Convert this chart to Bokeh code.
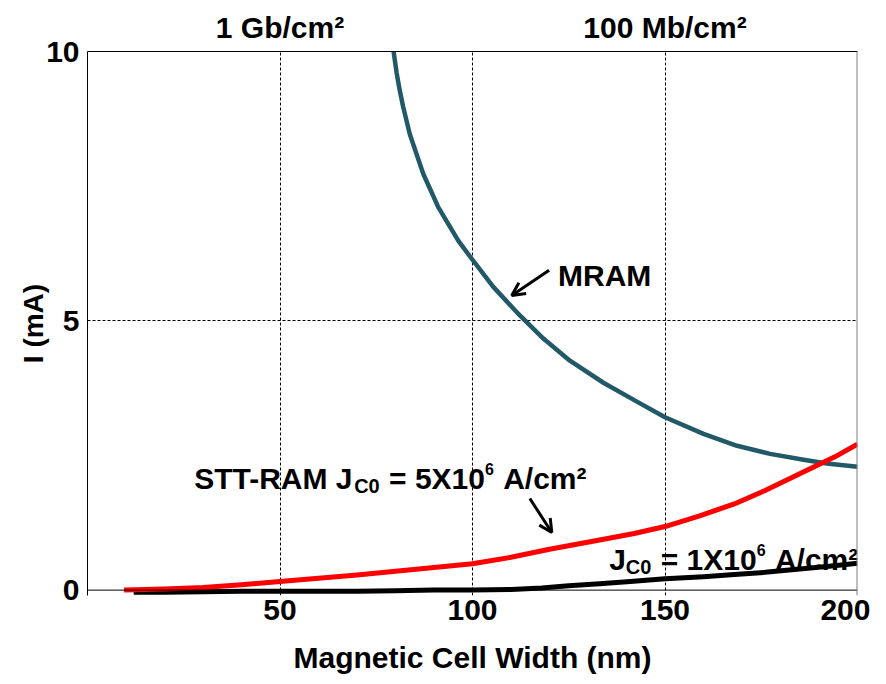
from bokeh.plotting import figure
from bokeh.models import Range1d, LinearAxis, FixedTicker, Arrow, OpenHead, ColumnDataSource, Span
from bokeh.core.properties import value
from bokeh.embed import file_html
from bokeh.resources import INLINE

# ---------------- data ----------------
x_ticks = [50, 100, 150, 200]
y_ticks = [0, 5, 10]
density_ticks = [50, 150]
density_labels = ["1 Gb/cm²", "100 Mb/cm²"]

mram_x = [79.5, 80.3, 81.1, 82.0, 83.7, 87.2, 91.1, 96.3, 99.5, 105.4, 112.3, 118.4, 125.3,
          134.0, 142.7, 150.0, 160.0, 168.7, 177.3, 186.0, 192.0, 200.0]
mram_y = [10.0, 9.60, 9.28, 8.97, 8.47, 7.73, 7.11, 6.49, 6.18, 5.63, 5.10, 4.67, 4.26,
          3.85, 3.50, 3.21, 2.90, 2.68, 2.53, 2.42, 2.35, 2.29]

stt5_x = [9.5, 20, 30, 40, 50, 60, 70, 80, 90, 100, 110, 120, 133, 142, 150, 159, 168, 176, 185, 194, 200]
stt5_y = [0.0, 0.02, 0.05, 0.10, 0.16, 0.22, 0.28, 0.35, 0.42, 0.49, 0.61, 0.76, 0.93, 1.05, 1.18, 1.38, 1.60, 1.85, 2.16, 2.47, 2.71]

stt1_x = [12, 20, 30, 40, 50, 60, 70, 80, 90, 100, 110, 118, 125, 133, 141, 150, 160, 168, 176, 185, 192, 200]
stt1_y = [-0.04, -0.04, -0.03, -0.02, -0.02, -0.02, -0.02, -0.01, 0.0, 0.0, 0.01, 0.04, 0.08, 0.12, 0.16, 0.21, 0.25, 0.29, 0.33, 0.39, 0.44, 0.50]

# annotation anchors (data units) and texts
mram_label_xy = (122.2, 5.84)
mram_label_parts = [("MRAM", "main")]
stt5_label_xy = (27.7, 2.065)
stt5_label_parts = [("STT-RAM J", "main"), ("C0", "sub"), (" = 5X10", "main"), ("6", "sup"), (" A/cm²", "main")]
stt1_label_xy = (135.5, 0.56)
stt1_label_parts = [("J", "main"), ("C0", "sub"), (" = 1X10", "main"), ("6", "sup"), (" A/cm²", "main")]

mram_arrow = (119.9, 5.94, 110.2, 5.47)
stt5_arrow = (114.9, 1.70, 120.6, 1.07)

# ---------------- styling helpers ----------------
FONT = "Liberation Sans"
MRAM_COLOR = "#215968"
SIZES = {"main": 30, "sub": 20, "sup": 16}
YOFF = {"main": 0, "sub": 7, "sup": -10}
ARIAL_BOLD = {' ': 278, '-': 333, '=': 584, '/': 278, '0': 556, '1': 556, '5': 556, '6': 556,
              'A': 722, 'C': 722, 'J': 556, 'M': 833, 'R': 722, 'S': 667, 'T': 611, 'X': 667,
              'c': 556, 'm': 889, '²': 333}


def text_width(s, size):
    return sum(ARIAL_BOLD.get(ch, 556) for ch in s) * size / 1000.0


cols = dict(x=[], y=[], text=[], xo=[], yo=[], size=[])
for (ax, ay), parts in [(mram_label_xy, mram_label_parts), (stt5_label_xy, stt5_label_parts),
                        (stt1_label_xy, stt1_label_parts)]:
    off = 0.0
    for txt, kind in parts:
        size = SIZES[kind]
        lead = len(txt) - len(txt.lstrip(" "))
        off += text_width(" " * lead, size)
        body = txt.strip(" ")
        cols["x"].append(ax)
        cols["y"].append(ay)
        cols["text"].append(body)
        cols["xo"].append(off)
        cols["yo"].append(YOFF[kind])
        cols["size"].append(f"{size}px")
        off += text_width(body, size) + (1 if kind != "main" else 0)
label_src = ColumnDataSource(cols)

# ---------------- figure ----------------
p = figure(frame_width=770, frame_height=544,
           x_range=Range1d(0, 200), y_range=Range1d(-0.1, 10),
           output_backend="svg", toolbar_location=None,
           min_border_left=87, min_border_right=13, min_border_top=51, min_border_bottom=81)
p.background_fill_color = "white"
p.border_fill_color = "white"
p.outline_line_color = None

# axes
for ax in (p.xaxis[0], p.yaxis[0]):
    ax.axis_line_color = "black"
    ax.axis_line_width = 1
    ax.major_tick_in = 0
    ax.major_tick_out = 0
    ax.minor_tick_line_color = None
    ax.major_label_text_font = FONT
    ax.major_label_text_font_style = "bold"
    ax.major_label_text_font_size = "30px"
    ax.major_label_text_color = "black"
    ax.axis_label_text_font = FONT
    ax.axis_label_text_font_style = "bold"
    ax.axis_label_text_color = "black"

p.xaxis.axis_line_color = None
p.xaxis.ticker = FixedTicker(ticks=x_ticks)
p.yaxis.ticker = FixedTicker(ticks=y_ticks)
p.xaxis.axis_label = "Magnetic Cell Width (nm)"
p.xaxis.axis_label_text_font_size = "30px"
p.xaxis.major_label_standoff = 4
p.xaxis.axis_label_standoff = 18
p.yaxis.axis_label = "I (mA)"
p.yaxis.axis_label_text_font_size = "28px"
p.yaxis.major_label_standoff = 8
p.yaxis.axis_label_standoff = -6

top = LinearAxis(ticker=FixedTicker(ticks=density_ticks),
                 major_label_overrides={t: l for t, l in zip(density_ticks, density_labels)})
top.axis_line_color = "black"
top.axis_line_width = 1
top.major_tick_line_color = None
top.minor_tick_line_color = None
top.major_label_text_font = FONT
top.major_label_text_font_style = "bold"
top.major_label_text_font_size = "30px"
top.major_label_text_color = "black"
top.major_label_standoff = 2
p.add_layout(top, "above")

# grid
p.xgrid.ticker = FixedTicker(ticks=x_ticks)
p.ygrid.ticker = FixedTicker(ticks=[5])
for g in (p.xgrid[0], p.ygrid[0]):
    g.grid_line_color = "black"
    g.grid_line_width = 1
    g.grid_line_dash = "3 2"

# frame borders: bottom at I = 0, right at the last width
p.add_layout(Span(location=y_ticks[0], dimension="width", line_color="black", line_width=1))
p.add_layout(Span(location=p.x_range.end, dimension="height", line_color="#7f7f7f", line_width=2))

# curves
p.line(mram_x, mram_y, line_color=MRAM_COLOR, line_width=4.5, line_join="round")
p.line(stt1_x, stt1_y, line_color="black", line_width=5, line_join="round")
p.line(stt5_x, stt5_y, line_color="#ff0000", line_width=5, line_join="round")

# annotations
for xs, ys, xe, ye in (mram_arrow, stt5_arrow):
    p.add_layout(Arrow(end=OpenHead(size=13, line_width=3, line_color="black"),
                       x_start=xs, y_start=ys, x_end=xe, y_end=ye,
                       line_width=3, line_color="black"))

p.text(x="x", y="y", text="text", x_offset="xo", y_offset="yo", text_font_size="size",
       source=label_src, text_font=value(FONT), text_font_style="bold", text_color="black",
       text_align="left", text_baseline="alphabetic")

open("out.html", "w").write(file_html(p, INLINE))
